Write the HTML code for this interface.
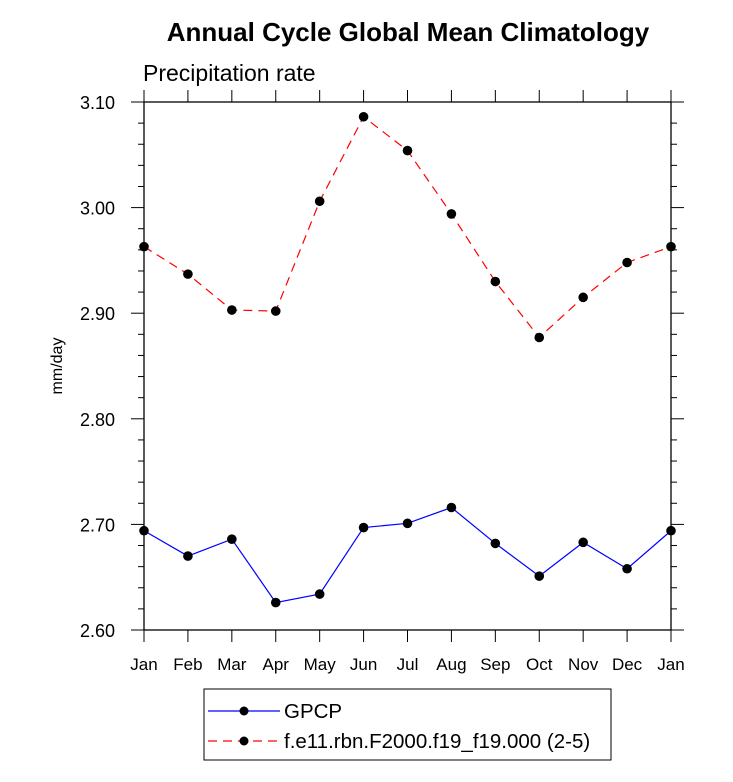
<!DOCTYPE html>
<html><head><meta charset="utf-8"><style>body{margin:0;background:#fff}svg{display:block}</style></head>
<body>
<svg id="chart" width="733" height="782" xmlns="http://www.w3.org/2000/svg" font-family="Liberation Sans, sans-serif">
<text x="408" y="41" text-anchor="middle" font-size="26" font-weight="bold">Annual Cycle Global Mean Climatology</text>
<text x="143" y="81" font-size="23">Precipitation rate</text>
<text transform="translate(62,366) rotate(-90)" text-anchor="middle" font-size="16">mm/day</text>
<g id="axes"></g><g id="series"></g>
<g>
<rect x="204" y="689" width="407" height="71" fill="none" stroke="#000" stroke-width="1"/>
<line x1="208" y1="711" x2="280" y2="711" stroke="#0000ff" stroke-width="1.2"/>
<circle cx="244" cy="711" r="4.5"/>
<text x="284" y="718" font-size="20.5">GPCP</text>
<line x1="208" y1="741" x2="280" y2="741" stroke="#ff0000" stroke-width="1.2" stroke-dasharray="9,6"/>
<circle cx="244" cy="741" r="4.5"/>
<text x="284" y="748" font-size="20.5">f.e11.rbn.F2000.f19_f19.000 (2-5)</text>
</g>
</svg>
<script>
const months=["Jan","Feb","Mar","Apr","May","Jun","Jul","Aug","Sep","Oct","Nov","Dec","Jan"];
const gpcp=[2.694,2.670,2.686,2.626,2.634,2.697,2.701,2.716,2.682,2.651,2.683,2.658,2.694];
const model=[2.963,2.937,2.903,2.902,3.006,3.086,3.054,2.994,2.930,2.877,2.915,2.948,2.963];
const yTicks=[2.60,2.70,2.80,2.90,3.00,3.10];
const NS="http://www.w3.org/2000/svg";
const L=144,R=671,T=102,B=630,ymin=2.6,ymax=3.1;
const xs=i=>L+(R-L)*i/(months.length-1);
const ys=v=>B-(v-ymin)/(ymax-ymin)*(B-T);
function mk(tag,attrs,parent){const e=document.createElementNS(NS,tag);for(const k in attrs)e.setAttribute(k,attrs[k]);parent.appendChild(e);return e;}
const ax=document.getElementById('axes'),sr=document.getElementById('series');
const frame=mk('rect',{x:L,y:T,width:R-L,height:B-T,fill:'none',stroke:'#000','stroke-width':1.3},ax);


months.forEach((m,i)=>{const x=xs(i);
mk('line',{x1:x,y1:B,x2:x,y2:B+12,stroke:'#000'},ax);
mk('line',{x1:x,y1:T,x2:x,y2:T-12,stroke:'#000'},ax);
const t=mk('text',{x:x,y:B+40,'text-anchor':'middle','font-size':17},ax);t.textContent=m;

});
for(let v=ymin;v<=ymax+1e-9;v+=0.02){const y=ys(v);const major=Math.abs(Math.round(v*10)-v*10)<1e-6;const len=major?13:6;
mk('line',{x1:L,y1:y,x2:L-len,y2:y,stroke:'#000'},ax);
mk('line',{x1:R,y1:y,x2:R+len,y2:y,stroke:'#000'},ax);}
yTicks.forEach(v=>{const t=mk('text',{x:L-29,y:ys(v)+7,'text-anchor':'end','font-size':18},ax);t.textContent=v.toFixed(2);

});
function series(vals,color,dash,name){
const p=mk('polyline',{points:vals.map((v,i)=>xs(i)+','+ys(v)).join(' '),fill:'none',stroke:color,'stroke-width':1.2,'stroke-dasharray':dash},sr);


vals.forEach((v,i)=>{const c=mk('circle',{cx:xs(i),cy:ys(v),r:4.8,fill:'#000'},sr);

});}
series(gpcp,'#0000ff','none','gpcp');
series(model,'#ff0000','9,6','model');
</script>
</body></html>
